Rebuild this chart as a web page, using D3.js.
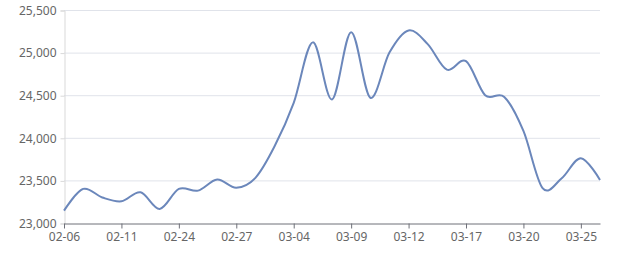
<!DOCTYPE html>
<html lang="en">
<head>
<meta charset="utf-8">
<script src="https://d3js.org/d3.v7.min.js"></script>
<title>Price trend</title>
<style>
body {
  margin: 0;
  background-color: #ffffff;
  font: 12px "Noto Sans", sans-serif;
}
.axis text {
  fill: #666666;
  font: 12px "Noto Sans", sans-serif;
}
</style>
</head>
<body>
<script>
// trading days
var dates = ["02-06", "02-09", "02-10", "02-11", "02-12", "02-13", "02-24", "02-25", "02-26", "02-27",
             "03-02", "03-03", "03-04", "03-05", "03-06", "03-09", "03-10", "03-11", "03-12", "03-13",
             "03-16", "03-17", "03-18", "03-19", "03-20", "03-23", "03-24", "03-25", "03-26"];
var prices = [23145, 23400, 23300, 23255, 23360, 23165, 23400, 23380, 23510, 23415,
              23530, 23900, 24410, 25120, 24450, 25240, 24470, 25000, 25260, 25100,
              24800, 24900, 24500, 24480, 24080, 23410, 23525, 23760, 23505];
var yTicks = [23000, 23500, 24000, 24500, 25000, 25500];

var width = 640, height = 270;
var margin = {top: 10, right: 40, bottom: 47, left: 64};

var svg = d3.select("body")
  .append("svg")
  .attr("width", width)
  .attr("height", height);

var x = d3.scalePoint()
  .domain(dates)
  .range([margin.left, width - margin.right]);

var y = d3.scaleLinear()
  .domain([23000, 25500])
  .range([height - margin.bottom, margin.top]);

var commaFormat = d3.format(",d");

// grid lines
svg.append("g")
  .selectAll("line")
  .data(yTicks.slice(1))
  .enter()
  .append("line")
  .attr("x1", margin.left)
  .attr("x2", width - margin.right)
  .attr("y1", function(d) { return y(d) + 0.5; })
  .attr("y2", function(d) { return y(d) + 0.5; })
  .style("stroke", "#e0e3ea")
  .style("stroke-width", 1);

// y axis
var yAxis = d3.axisLeft(y)
  .tickValues(yTicks)
  .tickFormat(commaFormat)
  .tickSize(4)
  .tickPadding(4);

var gy = svg.append("g")
  .attr("class", "y axis")
  .attr("transform", "translate(" + (margin.left + 0.5) + ",0.5)")
  .call(yAxis);
gy.selectAll("line").style("stroke", "#d9d9d9");
gy.select(".domain").style("stroke", "#d9d9d9");

// x axis, one label every third day
var xAxis = d3.axisBottom(x)
  .tickValues(dates.filter(function(d, i) { return i % 3 === 0; }))
  .tickSize(5)
  .tickSizeOuter(0)
  .tickPadding(4);

var gx = svg.append("g")
  .attr("class", "x axis")
  .attr("transform", "translate(0," + (y(23000) + 0.5) + ")")
  .call(xAxis);
gx.selectAll("line").style("stroke", "#6e7079");
gx.select(".domain").style("stroke", "#6e7079");

// price line
var line = d3.line()
  .x(function(d, i) { return x(dates[i]); })
  .y(function(d) { return y(d); })
  .curve(d3.curveCardinal.tension(0));

svg.append("path")
  .datum(prices)
  .attr("d", line)
  .style("fill", "none")
  .style("stroke", "#6b87bb")
  .style("stroke-width", 2);
</script>
</body>
</html>
